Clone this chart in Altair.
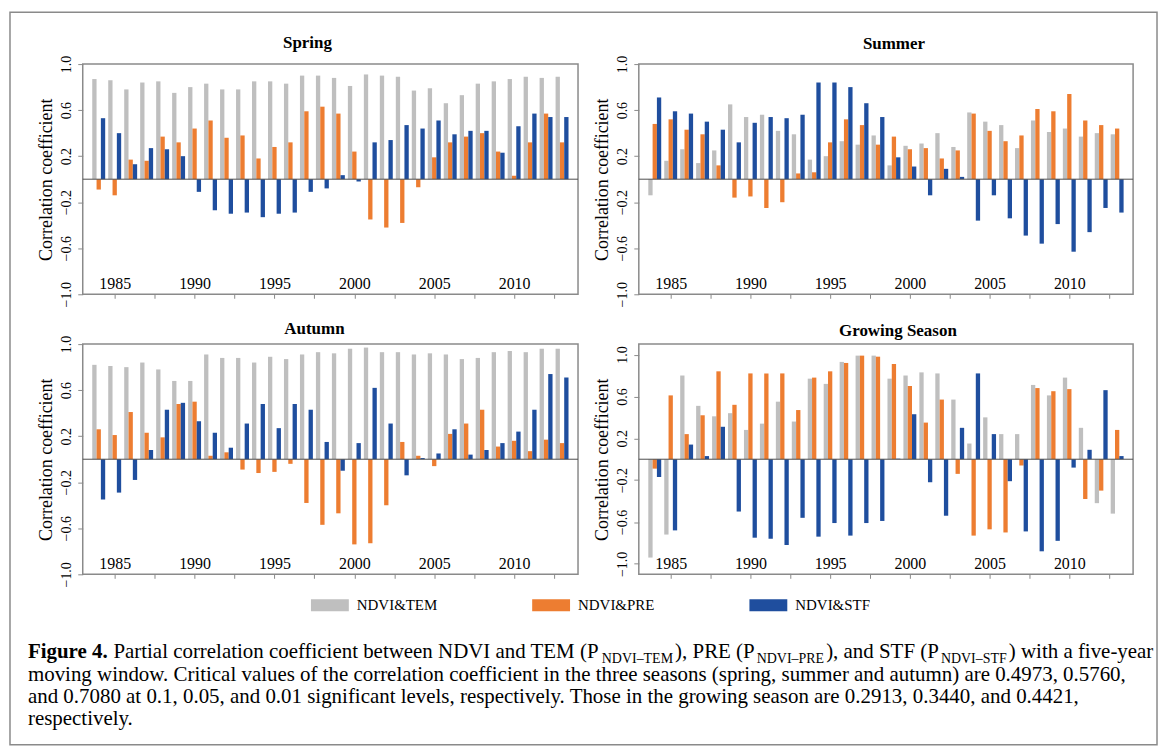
import altair as alt
import pandas as pd

# ---------------- data ----------------
years = list(range(1984, 2014))
series_names = ["NDVI&TEM", "NDVI&PRE", "NDVI&STF"]
series_colors = ["#BFBFBF", "#ED7D31", "#1F4E9E"]

spring_tem = [0.87, 0.86, 0.78, 0.84, 0.85, 0.75, 0.80, 0.83, 0.78, 0.78, 0.85, 0.85, 0.83, 0.90, 0.90,
              0.88, 0.81, 0.91, 0.90, 0.89, 0.77, 0.79, 0.66, 0.73, 0.83, 0.85, 0.87, 0.89, 0.88, 0.89]
spring_pre = [-0.09, -0.14, 0.17, 0.16, 0.37, 0.32, 0.44, 0.51, 0.36, 0.38, 0.18, 0.28, 0.32, 0.59, 0.63,
              0.57, 0.24, -0.35, -0.42, -0.38, -0.07, 0.19, 0.32, 0.37, 0.40, 0.24, 0.03, 0.32, 0.57, 0.32]
spring_stf = [0.53, 0.40, 0.13, 0.27, 0.26, 0.20, -0.11, -0.27, -0.30, -0.29, -0.33, -0.30, -0.29, -0.11, -0.08,
              0.035, -0.02, 0.32, 0.34, 0.47, 0.44, 0.51, 0.39, 0.42, 0.42, 0.23, 0.46, 0.57, 0.54, 0.54]

summer_tem = [-0.14, 0.16, 0.26, 0.14, 0.25, 0.65, 0.54, 0.56, 0.42, 0.39, 0.17, 0.20, 0.33, 0.30, 0.38,
              0.12, 0.29, 0.31, 0.40, 0.28, 0.58, 0.50, 0.47, 0.27, 0.51, 0.41, 0.44, 0.37, 0.40, 0.39]
summer_pre = [0.48, 0.52, 0.43, 0.39, 0.12, -0.16, -0.15, -0.25, -0.20, 0.05, 0.06, 0.32, 0.52, 0.47, 0.30,
              0.37, 0.26, 0.27, 0.18, 0.25, 0.57, 0.42, 0.33, 0.38, 0.61, 0.59, 0.74, 0.51, 0.47, 0.44]
summer_stf = [0.71, 0.59, 0.57, 0.50, 0.43, 0.32, 0.49, 0.54, 0.53, 0.56, 0.84, 0.84, 0.80, 0.66, 0.54,
              0.19, 0.11, -0.14, 0.09, 0.02, -0.36, -0.14, -0.34, -0.49, -0.56, -0.39, -0.63, -0.46, -0.25, -0.29]

autumn_tem = [0.82, 0.81, 0.80, 0.84, 0.78, 0.68, 0.68, 0.91, 0.88, 0.88, 0.84, 0.89, 0.87, 0.91, 0.93,
              0.92, 0.96, 0.97, 0.93, 0.93, 0.91, 0.92, 0.91, 0.87, 0.88, 0.93, 0.94, 0.93, 0.96, 0.96]
autumn_pre = [0.26, 0.21, 0.41, 0.23, 0.19, 0.48, 0.50, 0.03, 0.06, -0.09, -0.12, -0.11, -0.04, -0.38, -0.57,
              -0.47, -0.74, -0.73, -0.40, 0.15, 0.03, -0.06, 0.22, 0.31, 0.43, 0.11, 0.16, 0.07, 0.17, 0.14]
autumn_stf = [-0.35, -0.29, -0.18, 0.08, 0.43, 0.49, 0.33, 0.23, 0.10, 0.31, 0.48, 0.27, 0.48, 0.43, 0.15,
              -0.10, 0.14, 0.62, 0.31, -0.14, 0.01, 0.05, 0.26, 0.04, 0.08, 0.14, 0.24, 0.43, 0.74, 0.71]

grow_tem = [-0.94, -0.72, 0.80, 0.51, 0.41, 0.44, 0.28, 0.34, 0.55, 0.36, 0.77, 0.72, 0.93, 0.99, 0.99,
            0.77, 0.80, 0.83, 0.82, 0.57, 0.15, 0.40, 0.24, 0.24, 0.71, 0.61, 0.78, 0.30, -0.42, -0.52]
grow_pre = [-0.09, 0.61, 0.24, 0.42, 0.84, 0.52, 0.82, 0.82, 0.82, 0.47, 0.78, 0.84, 0.92, 0.99, 0.98,
            0.91, 0.70, 0.35, 0.57, -0.14, -0.73, -0.67, -0.70, -0.06, 0.68, 0.65, 0.67, -0.38, -0.30, 0.28]
grow_stf = [-0.17, -0.68, 0.14, 0.03, 0.31, -0.50, -0.75, -0.76, -0.82, -0.56, -0.74, -0.61, -0.73, -0.61, -0.59,
            0.005, 0.43, -0.22, -0.54, 0.30, 0.82, 0.24, -0.21, -0.69, -0.88, -0.78, -0.08, 0.09, 0.66, 0.03]

x_tick_values = [1985, 1987.5, 1990, 1992.5, 1995, 1997.5, 2000, 2002.5, 2005, 2007.5, 2010, 2012.5]
y_tick_values = [-1.0, -0.8, -0.6, -0.4, -0.2, 0.0, 0.2, 0.4, 0.6, 0.8, 1.0]

caption_lines = [
    [("b", "Figure 4."), ("r", " Partial correlation coefficient between NDVI and TEM (P"), ("s", "NDVI–TEM"),
     ("r", "), PRE (P"), ("s", "NDVI–PRE"), ("r", "), and STF (P"), ("s", "NDVI–STF"), ("r", ") with a five-year")],
    [("r", "moving window. Critical values of the correlation coefficient in the three seasons "
           "(spring, summer and autumn) are 0.4973, 0.5760,")],
    [("r", "and 0.7080 at 0.1, 0.05, and 0.01 significant levels, respectively. Those in the growing "
           "season are 0.2913, 0.3440, and 0.4421,")],
    [("r", "respectively.")],
]

# ---------------- style ----------------
FONT = "Liberation Serif"
GRAY = "#8a8a8a"

color_scale = alt.Scale(domain=series_names, range=series_colors)
legend = alt.Legend(orient="none", legendX=229, legendY=524, direction="horizontal", title=None,
                    symbolType="M-1,-0.32H1V0.32H-1Z", symbolSize=1444, symbolStrokeWidth=0,
                    symbolOpacity=1, labelFont=FONT, labelFontSize=15, labelColor="black",
                    labelOffset=8, columnPadding=95, padding=0)


def panel_df(tem, pre, stf):
    rows = []
    for k, vals in enumerate([tem, pre, stf]):
        for yr, v in zip(years, vals):
            rows.append({"year": yr, "series": series_names[k], "k": k, "value": v})
    return pd.DataFrame(rows)


def panel(title, tem, pre, stf, ydom, width, title_dx, title_offset):
    df = panel_df(tem, pre, stf)
    xaxis = alt.Axis(values=x_tick_values, format="d",
                     labelExpr="datum.value % 5 === 0 ? datum.label : ''",
                     grid=False, domain=False, tickSize=4, tickColor=GRAY, tickWidth=1,
                     labelFont=FONT, labelFontSize=16, labelColor="black",
                     labelBaseline="alphabetic", labelPadding=-10,
                     labelOverlap=False, labelFlush=False, title=None)
    yaxis = alt.Axis(values=y_tick_values, format=".1f",
                     labelExpr="(round(datum.value * 10) + 10) % 4 === 0 ? datum.label : ''",
                     grid=False, domain=False, tickSize=5, tickColor=GRAY, tickWidth=1,
                     labelAngle=270, labelAlign="center", labelBaseline="bottom", labelPadding=4,
                     labelFont=FONT, labelFontSize=14, labelColor="black", labelOverlap=False,
                     labelFlush=False,
                     title="Correlation coefficient", titleFont=FONT, titleFontSize=18,
                     titleFontWeight="normal", titleColor="black", titlePadding=4)
    bars = alt.Chart(df).transform_calculate(
        x0="datum.year + (datum.k - 1) * 0.27 - 0.135",
        x1="datum.year + (datum.k - 1) * 0.27 + 0.135",
    ).mark_rect().encode(
        x=alt.X("x0:Q", scale=alt.Scale(domain=[1983, 2014], nice=False, zero=False), axis=xaxis),
        x2="x1:Q",
        y=alt.Y("value:Q", scale=alt.Scale(domain=ydom, nice=False, zero=False), axis=yaxis),
        y2=alt.datum(0),
        color=alt.Color("series:N", scale=color_scale, legend=legend),
    )
    zero = alt.Chart(pd.DataFrame({"z": [0]})).mark_rule(color="#4d4d4d", strokeWidth=1).encode(
        y=alt.datum(0))
    return alt.layer(bars, zero).properties(
        width=width, height=231,
        title=alt.TitleParams(text=title, font=FONT, fontSize=17, fontWeight="bold", color="black",
                              anchor="middle", frame="group", dx=title_dx, baseline="alphabetic",
                              offset=title_offset),
        view=alt.ViewBackground(stroke=GRAY, strokeWidth=1.5),
    )


sp = panel("Spring", spring_tem, spring_pre, spring_stf, [-1.0, 1.0], 497, -23, -10)
su = panel("Summer", summer_tem, summer_pre, summer_stf, [-1.0, 1.0], 496, 8, -11)
au = panel("Autumn", autumn_tem, autumn_pre, autumn_stf, [-1.0, 1.0], 497, -16, -16)
gr = panel("Growing Season", grow_tem, grow_pre, grow_stf, [-1.1, 1.1], 496, 12, -9)

# ---------------- caption (text layout with Times-compatible metrics) ----------------
TR = {' ': 250, '(': 333, ')': 333, ',': 250, '-': 333, '.': 250, '&': 778, '–': 500}
TR.update({d: 500 for d in "0123456789"})
TR.update(dict(zip("ABCDEFGHIJKLMNOPQRSTUVWXYZ",
                   [722, 667, 667, 722, 611, 556, 722, 722, 333, 389, 722, 611, 889, 722, 722, 556, 722, 667,
                    556, 611, 722, 722, 944, 722, 722, 611])))
TR.update(dict(zip("abcdefghijklmnopqrstuvwxyz",
                   [444, 500, 444, 500, 444, 333, 500, 500, 278, 278, 500, 278, 778, 500, 500, 500, 500, 333,
                    389, 278, 500, 500, 722, 500, 500, 444])))
TB = dict(TR)
TB.update({'F': 611, 'u': 556, 'r': 444, '4': 500})


def em(s, table):
    return sum(table.get(c, 500) for c in s) / 1000.0


FS, SUB_FS, SUB_DY = 21, 14, 5
cap_x0 = -55
cap_baselines = [34, 57, 79, 101]
rows_r, rows_s, rows_b = [], [], []
for line, yb in zip(caption_lines, cap_baselines):
    cx = cap_x0
    for kind, txt in line:
        tab = TB if kind == "b" else TR
        size = SUB_FS if kind == "s" else FS
        stripped = txt.lstrip(" ")
        cx += (len(txt) - len(stripped)) * 0.25 * size
        if kind == "s":
            cx += 2
        rec = {"x": cx, "y": yb + (SUB_DY if kind == "s" else 0), "t": stripped}
        {"r": rows_r, "s": rows_s, "b": rows_b}[kind].append(rec)
        cx += em(stripped, tab) * size
        if kind == "s":
            cx += 2


def cap_layer(rows, size, weight):
    return alt.Chart(pd.DataFrame(rows)).mark_text(
        align="left", baseline="alphabetic", font=FONT, fontSize=size, fontWeight=weight, color="black"
    ).encode(x=alt.X("x:Q", scale=None, axis=None), y=alt.Y("y:Q", scale=None, axis=None), text="t:N")


border = alt.Chart(pd.DataFrame({"b": [0]})).mark_rect(
    fillOpacity=0, stroke=GRAY, strokeWidth=1.5
).encode(x=alt.value(-73), x2=alt.value(1078), y=alt.value(-614), y2=alt.value(121))

footer = alt.layer(
    border,
    cap_layer(rows_r, FS, "normal"),
    cap_layer(rows_s, SUB_FS, "normal"),
    cap_layer(rows_b, FS, "bold"),
).properties(width=497, height=10, view=alt.ViewBackground(strokeOpacity=0))

chart = alt.concat(sp, su, au, gr, footer, columns=2).properties(
    spacing={"row": 50, "column": 61},
    bounds="flush",
    padding={"left": 1, "top": 2, "right": 2, "bottom": 2},
).configure(font=FONT).configure_axis(labelFont=FONT, titleFont=FONT).configure_legend(
    labelFont=FONT).configure_title(font=FONT)

chart.save("out.html", embed_options={"renderer": "svg", "actions": False})
